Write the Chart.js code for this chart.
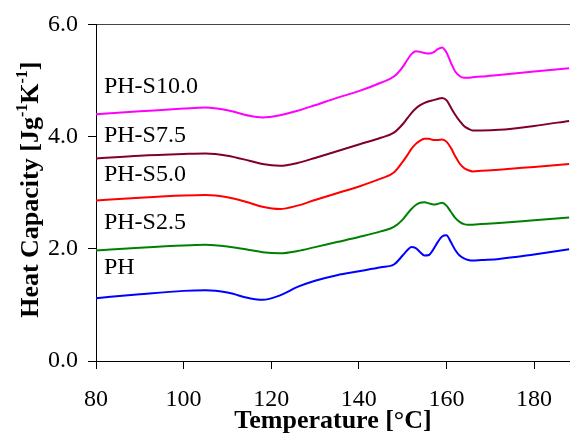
<!DOCTYPE html>
<html>
<head>
<meta charset="utf-8">
<script src="https://cdn.jsdelivr.net/npm/chart.js@4/dist/chart.umd.min.js"></script>
<style>
    body { margin: 0; background: #fff; }
    canvas { display: block; }
</style>
</head>
<body>
<canvas id="cpChart" width="570" height="437"></canvas>
<script>
// Temperature grid (°C) shared by all DSC traces
const temps = [80, 90, 100, 105, 110, 115, 118, 122, 126, 130, 135, 140, 145, 148,
    150, 151, 152, 153, 154, 155, 156, 157, 158, 159, 160, 161, 162, 163, 164, 165, 166,
    168, 172, 180, 188];

// Heat capacity traces, J g-1 K-1 (curves offset vertically)
const ph = [1.12, 1.19, 1.25, 1.26, 1.22, 1.12, 1.09, 1.17, 1.32, 1.43, 1.53, 1.60, 1.67, 1.72,
    1.88, 1.97, 2.03, 2.01, 1.94, 1.88, 1.89, 1.99, 2.12, 2.22, 2.24, 2.12, 1.98, 1.88, 1.83, 1.80, 1.79,
    1.80, 1.82, 1.90, 1.99];
const phS25 = [1.97, 2.02, 2.06, 2.07, 2.04, 1.98, 1.94, 1.92, 1.96, 2.03, 2.12, 2.21, 2.31, 2.39,
    2.52, 2.62, 2.71, 2.78, 2.82, 2.83, 2.81, 2.79, 2.80, 2.82, 2.77, 2.66, 2.55, 2.48, 2.44, 2.43, 2.43,
    2.44, 2.46, 2.51, 2.56];
const phS50 = [2.86, 2.91, 2.95, 2.96, 2.92, 2.82, 2.75, 2.71, 2.77, 2.87, 2.99, 3.11, 3.25, 3.36,
    3.55, 3.66, 3.78, 3.87, 3.93, 3.96, 3.96, 3.94, 3.94, 3.95, 3.91, 3.80, 3.65, 3.52, 3.44, 3.40, 3.38,
    3.39, 3.41, 3.46, 3.51];
const phS75 = [3.61, 3.66, 3.69, 3.70, 3.66, 3.57, 3.51, 3.48, 3.53, 3.62, 3.74, 3.86, 3.98, 4.07,
    4.22, 4.32, 4.42, 4.50, 4.56, 4.60, 4.63, 4.65, 4.67, 4.69, 4.65, 4.52, 4.39, 4.28, 4.19, 4.14, 4.11,
    4.11, 4.12, 4.19, 4.28];
const phS100 = [4.40, 4.45, 4.50, 4.52, 4.47, 4.37, 4.34, 4.38, 4.46, 4.56, 4.69, 4.81, 4.96, 5.07,
    5.24, 5.36, 5.47, 5.52, 5.51, 5.49, 5.48, 5.50, 5.56, 5.59, 5.50, 5.32, 5.16, 5.08, 5.05, 5.05, 5.06,
    5.07, 5.10, 5.16, 5.22];

const seriesNames = ['PH', 'PH-S2.5', 'PH-S5.0', 'PH-S7.5', 'PH-S10.0'];
const seriesValues = [ph, phS25, phS50, phS75, phS100];
const seriesColors = ['#0000ff', '#008000', '#ff0000', '#800026', '#ff00ff'];

const serif = "'Liberation Serif', 'Times New Roman', serif";

// Name labels sit just above each curve near the left axis (data coords)
const labelSpots = [1.67, 2.47, 3.32, 4.02, 4.89];
const curveLabels = {
    id: 'curveLabels',
    afterDatasetsDraw(chart) {
        const { ctx, scales: { x, y } } = chart;
        ctx.save();
        ctx.fillStyle = '#000';
        ctx.font = '24px ' + serif;
        ctx.textAlign = 'left';
        ctx.textBaseline = 'middle';
        seriesNames.forEach((name, i) => {
            ctx.fillText(name, x.getPixelForValue(81.8), y.getPixelForValue(labelSpots[i]));
        });
        ctx.restore();
    }
};

// Rotated y title with real superscripts: Heat Capacity [Jg^-1 K^-1]
const yTitle = {
    id: 'yTitle',
    afterDraw(chart) {
        const { ctx, chartArea } = chart;
        const big = 'bold 26px ' + serif;
        const small = 'bold 16px ' + serif;
        const parts = [
            { t: 'Heat Capacity [Jg', f: big, dy: 0 },
            { t: '-1', f: small, dy: -11 },
            { t: 'K', f: big, dy: 0 },
            { t: '-1', f: small, dy: -11 },
            { t: ']', f: big, dy: 0 }
        ];
        ctx.save();
        ctx.fillStyle = '#000';
        ctx.textBaseline = 'alphabetic';
        let total = 0;
        parts.forEach(p => { ctx.font = p.f; p.w = ctx.measureText(p.t).width; total += p.w; });
        ctx.translate(29, (chartArea.top + chartArea.bottom) / 2 - 3);
        ctx.rotate(-Math.PI / 2);
        let cx = -total / 2;
        parts.forEach(p => {
            ctx.font = p.f;
            ctx.fillText(p.t, cx, 8.5 + p.dy);
            cx += p.w;
        });
        ctx.restore();
    }
};

const datasets = seriesNames.map((name, i) => ({
    label: name,
    data: temps.map((t, j) => ({ x: t, y: seriesValues[i][j] })),
    borderColor: seriesColors[i],
    borderWidth: 2,
    pointRadius: 0,
    cubicInterpolationMode: 'monotone',
    fill: false
}));

new Chart(document.getElementById('cpChart'), {
    type: 'line',
    data: { datasets },
    plugins: [curveLabels, yTitle],
    options: {
        responsive: false,
        animation: false,
        layout: { padding: { top: 23, right: 0, left: 0, bottom: 0 } },
        plugins: {
            legend: { display: false },
            tooltip: { enabled: false }
        },
        scales: {
            x: {
                type: 'linear',
                min: 80,
                max: 188.2,
                afterFit: (scale) => { scale.height = 76; },
                border: { color: '#000', width: 1 },
                grid: { drawOnChartArea: false, tickLength: 8, tickColor: '#000' },
                ticks: {
                    stepSize: 20,
                    includeBounds: false,
                    padding: 16,
                    color: '#000',
                    font: { family: serif, size: 24 }
                },
                title: {
                    display: true,
                    text: 'Temperature [°C]',
                    color: '#000',
                    padding: { top: 0, bottom: 0 },
                    font: { family: serif, size: 26, weight: 'bold' }
                }
            },
            y: {
                min: 0,
                max: 6,
                afterFit: (scale) => { scale.width = 96; },
                border: { color: '#000', width: 1 },
                grid: {
                    drawOnChartArea: true,
                    tickLength: 8,
                    tickColor: '#000',
                    color: (c) => (c.tick && c.tick.value === 6 ? '#444' : 'rgba(0,0,0,0)')
                },
                ticks: {
                    stepSize: 2,
                    padding: 10,
                    color: '#000',
                    font: { family: serif, size: 24 },
                    callback: (v) => v.toFixed(1)
                }
            }
        }
    }
});
</script>
</body>
</html>
